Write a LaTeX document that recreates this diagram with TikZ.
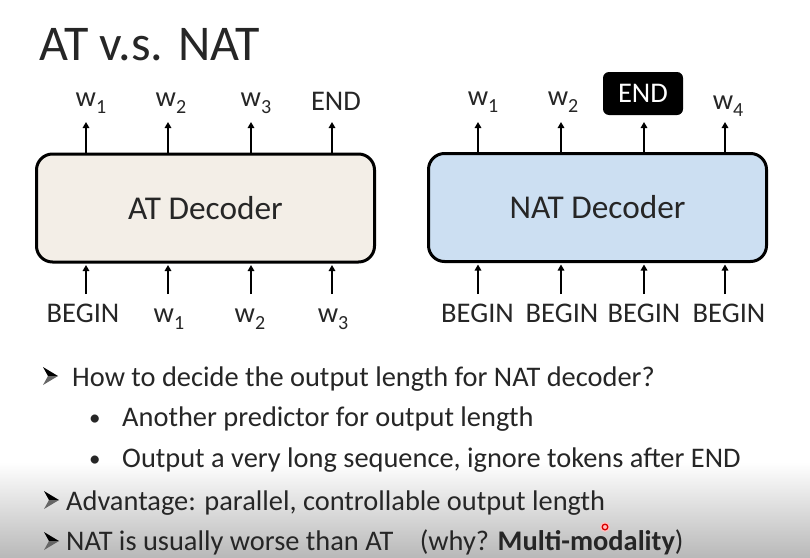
\documentclass[tikz,border=0pt]{standalone}
\usepackage{fontspec}
\setmainfont{Carlito}
\usetikzlibrary{arrows.meta, positioning}
\definecolor{atfill}{HTML}{F3EEE7}
\definecolor{natfill}{HTML}{CCDFF2}
\definecolor{inkgray}{HTML}{262626}
\definecolor{shadegray}{HTML}{B9B9B9}
\tikzstyle{decbox} = [draw=black, line width=3pt, rounded corners=16pt,
    minimum width=338pt, minimum height=108pt, text=inkgray,
    font=\fontsize{33.3}{36}\selectfont]
\tikzstyle{tok} = [anchor=base, inner sep=0pt, text=inkgray,
    font=\fontsize{28.5}{32}\selectfont]
\tikzstyle{endbox} = [fill=black, rounded corners=6pt, text=white,
    minimum width=80pt, minimum height=43pt, inner sep=0pt,
    font=\fontsize{28.5}{32}\selectfont]
\tikzstyle{arr} = [line width=2pt, -{Triangle[length=6pt,width=6.5pt]}]
\tikzstyle{line} = [anchor=base west, inner sep=0pt, text=inkgray,
    font=\fontsize{28.4}{32}\selectfont]
\tikzstyle{dot} = [anchor=base west, inner sep=0pt, text=inkgray,
    font=\fontsize{23}{24}\selectfont]
\tikzset{pointer/.pic={
    \fill[black] (0,0) -- (-15,-9) -- (-10,0) -- cycle;
    \fill[black!60] (0,0) -- (-10,0) -- (-15,9) -- cycle;
}}
\newcommand{\wsub}[1]{w\raisebox{-7pt}{\fontsize{20}{20}\selectfont #1}}

\begin{document}
\begin{tikzpicture}[x=1pt,y=-1pt]
	\useasboundingbox (0,0) rectangle (810,557);
	\fill[white] (0,0) rectangle (810,557);
	% fading band of the player
	\shade[top color=white, bottom color=shadegray] (0,462) rectangle (810,557);

	% title
	\node[anchor=base west, inner sep=0pt, text=inkgray,
		font=\fontsize{50}{56}\selectfont] (title) at (39,60) {AT v.s. NAT};

	% AT
	\node[decbox, fill=atfill] (at) at (205.5,208) {AT Decoder};

	\node[tok] (atout1) at (91,106) {\wsub{1}};
	\node[tok] (atout2) at (171,106) {\wsub{2}};
	\node[tok] (atout3) at (256,106) {\wsub{3}};
	\node[tok] (atout4) at (336,110) {END};

	\node[tok] (atin1) at (83,322) {BEGIN};
	\node[tok] (atin2) at (169,322) {\wsub{1}};
	\node[tok] (atin3) at (250,322) {\wsub{2}};
	\node[tok] (atin4) at (333,322) {\wsub{3}};

	\coordinate (atup1) at (86,122);
	\coordinate (atup2) at (168,122);
	\coordinate (atup3) at (251,122);
	\coordinate (atup4) at (332,122);
	\coordinate (atdn1) at (86,294);
	\coordinate (atdn2) at (168,294);
	\coordinate (atdn3) at (251,294);
	\coordinate (atdn4) at (332,294);

	\draw[arr] (at.north -| atup1) -- (atup1);
	\draw[arr] (at.north -| atup2) -- (atup2);
	\draw[arr] (at.north -| atup3) -- (atup3);
	\draw[arr] (at.north -| atup4) -- (atup4);
	\draw[arr, shorten >=1.5pt] (atdn1) -- (at.south -| atdn1);
	\draw[arr, shorten >=1.5pt] (atdn2) -- (at.south -| atdn2);
	\draw[arr, shorten >=1.5pt] (atdn3) -- (at.south -| atdn3);
	\draw[arr, shorten >=1.5pt] (atdn4) -- (at.south -| atdn4);

	% NAT
	\node[decbox, fill=natfill] (nat) at (597.5,207.5) {NAT Decoder};

	\node[tok] (natout1) at (483,105) {\wsub{1}};
	\node[tok] (natout2) at (563,105) {\wsub{2}};
	\node[endbox] (natout3) at (643,93.5) {END};
	\node[tok] (natout4) at (728,109) {\wsub{4}};

	\node[tok] (natin1) at (477.5,322) {BEGIN};
	\node[tok] (natin2) at (562,322) {BEGIN};
	\node[tok] (natin3) at (644,322) {BEGIN};
	\node[tok] (natin4) at (729,322) {BEGIN};

	\coordinate (natup1) at (478,122);
	\coordinate (natup2) at (561,122);
	\coordinate (natup3) at (644,122);
	\coordinate (natup4) at (725,122);
	\coordinate (natdn1) at (478,294);
	\coordinate (natdn2) at (561,294);
	\coordinate (natdn3) at (644,294);
	\coordinate (natdn4) at (725,294);

	\draw[arr] (nat.north -| natup1) -- (natup1);
	\draw[arr] (nat.north -| natup2) -- (natup2);
	\draw[arr] (nat.north -| natup3) -- (natup3);
	\draw[arr] (nat.north -| natup4) -- (natup4);
	\draw[arr, shorten >=1.5pt] (natdn1) -- (nat.south -| natdn1);
	\draw[arr, shorten >=1.5pt] (natdn2) -- (nat.south -| natdn2);
	\draw[arr, shorten >=1.5pt] (natdn3) -- (nat.south -| natdn3);
	\draw[arr, shorten >=1.5pt] (natdn4) -- (nat.south -| natdn4);

	% bullets
	\pic at (58,376) {pointer};
	\node[line] (q1) at (72,386) {How to decide the output length for NAT decoder?};
	\node[dot] (dot1) at (89,425) {•};
	\node[line] (q2) at (122,426) {Another predictor for output length};
	\node[dot] (dot2) at (89,466) {•};
	\node[line] (q3) at (122,467) {Output a very long sequence, ignore tokens after END};
	\pic at (59,500) {pointer};
	\node[line] (q4) at (66,510) {Advantage: parallel, controllable output length};
	\pic at (59,541) {pointer};
	\node[line] (q5) at (66,550) {NAT is usually worse than AT\hspace{20pt} (why? \textbf{Multi-modality})};

	% pointer dot
	\fill[red!25] (605,527) circle (5);
	\draw[red!85!black, line width=1.3pt] (605,527) circle (2.8);
\end{tikzpicture}
\end{document}
